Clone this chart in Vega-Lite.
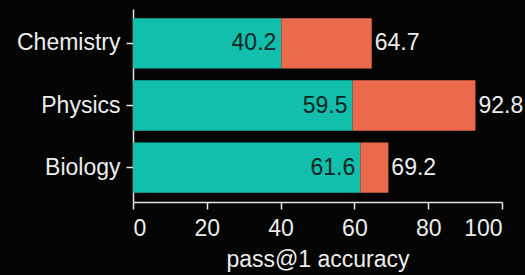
{
  "$schema": "https://vega.github.io/schema/vega-lite/v6.json",
  "autosize": {"type": "none"},
  "padding": {"left": 133, "top": 9, "right": 23, "bottom": 73},
  "width": 369,
  "height": 193,
  "background": "#050505",
  "config": {
    "view": {"stroke": null},
    "font": "Liberation Sans",
    "axis": {
      "domainColor": "#e6e6e6",
      "tickColor": "#e6e6e6",
      "labelColor": "#ececec",
      "titleColor": "#ececec",
      "labelFont": "Liberation Sans",
      "titleFont": "Liberation Sans",
      "labelFontSize": 23,
      "titleFontSize": 23,
      "titleFontWeight": "normal",
      "grid": false,
      "domainWidth": 1.5,
      "tickWidth": 1.5,
      "tickSize": 7
    }
  },
  "data": {
    "values": [
      {"subject": "Chemistry", "base": 40.2, "total": 64.7},
      {"subject": "Physics", "base": 59.5, "total": 92.8},
      {"subject": "Biology", "base": 61.6, "total": 69.2}
    ]
  },
  "encoding": {
    "y": {
      "field": "subject",
      "type": "nominal",
      "sort": ["Chemistry", "Physics", "Biology"],
      "scale": {"paddingInner": 0.19, "paddingOuter": 0.15},
      "axis": {"title": null, "labelPadding": 6}
    }
  },
  "layer": [
    {
      "mark": {"type": "bar", "color": "#12BFAC"},
      "encoding": {
        "x": {
          "field": "base",
          "type": "quantitative",
          "scale": {"domain": [0, 100]},
          "axis": {"title": "pass@1 accuracy", "values": [0, 20, 40, 60, 80, 100], "labelPadding": 8, "titlePadding": 8}
        }
      }
    },
    {
      "mark": {"type": "bar", "color": "#EB6A4B"},
      "encoding": {
        "x": {"field": "base", "type": "quantitative"},
        "x2": {"field": "total"}
      }
    },
    {
      "mark": {"type": "text", "align": "right", "baseline": "middle", "dx": -5, "fontSize": 23, "color": "#0b2424", "font": "Liberation Sans"},
      "encoding": {
        "x": {"field": "base", "type": "quantitative"},
        "text": {"field": "base", "type": "quantitative", "format": ".1f"}
      }
    },
    {
      "mark": {"type": "text", "align": "left", "baseline": "middle", "dx": 3, "fontSize": 23, "color": "#ececec", "font": "Liberation Sans"},
      "encoding": {
        "x": {"field": "total", "type": "quantitative"},
        "text": {"field": "total", "type": "quantitative", "format": ".1f"}
      }
    }
  ]
}
